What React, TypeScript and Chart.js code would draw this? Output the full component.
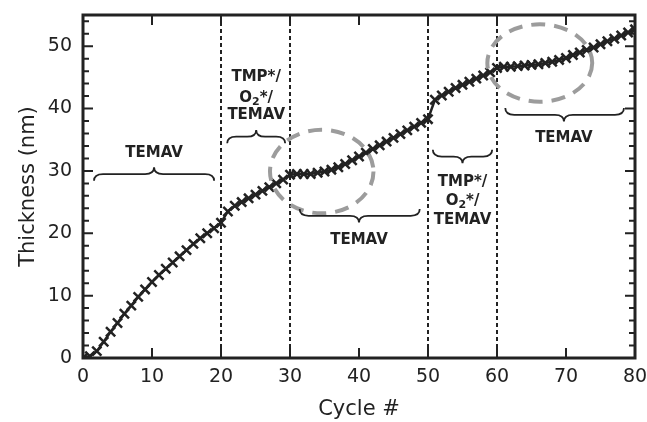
import { useEffect, useRef } from "react";
import { Chart, registerables } from "chart.js";

Chart.register(...registerables);

const cycles: number[] = Array.from({ length: 81 }, (_, i) => i);
const thickness: number[] = [
  0.0, 0.3, 1.1, 2.6, 4.2, 5.6, 7.1, 8.4, 9.8, 11.0,
  12.2, 13.3, 14.3, 15.3, 16.3, 17.3, 18.3, 19.2, 20.0, 20.8,
  21.7, 23.5, 24.4, 25.0, 25.6, 26.2, 26.8, 27.4, 28.0, 28.6,
  29.4, 29.5, 29.5, 29.5, 29.7, 29.9, 30.2, 30.6, 31.1, 31.7,
  32.3, 32.9, 33.5, 34.1, 34.7, 35.3, 35.9, 36.5, 37.1, 37.7,
  38.3, 41.4, 42.1, 42.7, 43.3, 43.8, 44.3, 44.8, 45.3, 45.8,
  46.5, 46.7, 46.7, 46.8, 46.9, 47.0, 47.1, 47.3, 47.5, 47.8,
  48.1, 48.6, 49.0, 49.4, 49.8, 50.3, 50.8, 51.2, 51.7, 52.2,
  52.7,
];
const xTickValues: number[] = [0, 10, 20, 30, 40, 50, 60, 70, 80];
const yTickValues: number[] = [0, 10, 20, 30, 40, 50];
const phaseBoundaries: number[] = [20, 30, 50, 60];

const xTitle = "Cycle #";
const yTitle = "Thickness (nm)";

// label lines: segments of [text, isSubscript]
const TEMAV_LINES = [[["TEMAV", false]]];
const MIXED_LINES = [
  [["TMP*/", false]],
  [["O", false], ["2", true], ["*/", false]],
  [["TEMAV", false]],
];

// brace annotations (data coordinates)
const braces = [
  { x1: 1.6, x2: 19.0, xm: 10.3, y: 29.5, dir: "up", lines: TEMAV_LINES, ty: [32.8] },
  { x1: 20.9, x2: 29.3, xm: 25.1, y: 35.5, dir: "up", lines: MIXED_LINES, ty: [45.1, 41.7, 38.9] },
  { x1: 31.4, x2: 48.8, xm: 40.0, y: 22.8, dir: "down", lines: TEMAV_LINES, ty: [18.9] },
  { x1: 50.7, x2: 59.3, xm: 55.0, y: 32.3, dir: "down", lines: MIXED_LINES, ty: [28.2, 25.2, 22.1] },
  { x1: 61.2, x2: 78.4, xm: 69.7, y: 39.0, dir: "down", lines: TEMAV_LINES, ty: [35.2] },
];

// dashed highlight ellipses (data coordinates)
const ellipses = [
  { cx: 34.6, cy: 29.9, rx: 7.5, ry: 6.7 },
  { cx: 66.2, cy: 47.3, rx: 7.6, ry: 6.2 },
];

const INK = "#222222";
const MAIN_FONT = "bold 15px 'DejaVu Sans'";
const SUB_FONT = "bold 11px 'DejaVu Sans'";

function drawMixed(ctx: CanvasRenderingContext2D, segs: any[], cx: number, cy: number) {
  let total = 0;
  const widths: number[] = [];
  for (const [t, sub] of segs) {
    ctx.font = sub ? SUB_FONT : MAIN_FONT;
    const w = ctx.measureText(t).width;
    widths.push(w);
    total += w;
  }
  let x = cx - total / 2;
  ctx.textAlign = "left";
  ctx.textBaseline = "middle";
  segs.forEach(([t, sub]: any, i: number) => {
    ctx.font = sub ? SUB_FONT : MAIN_FONT;
    ctx.fillText(t, x, sub ? cy + 4 : cy);
    x += widths[i];
  });
}

const decorPlugin = {
  id: "decor",
  beforeDatasetsDraw(chart: any) {
    const { ctx, chartArea: a, scales } = chart;
    const xs = scales.x;
    ctx.save();
    ctx.strokeStyle = INK;
    ctx.lineWidth = 2;
    ctx.setLineDash([4, 3]);
    for (const b of phaseBoundaries) {
      const px = Math.round(xs.getPixelForValue(b));
      ctx.beginPath();
      ctx.moveTo(px, a.top);
      ctx.lineTo(px, a.bottom);
      ctx.stroke();
    }
    ctx.restore();
  },
  afterDatasetsDraw(chart: any) {
    const { ctx, chartArea: a, scales } = chart;
    const xs = scales.x;
    const ys = scales.y;
    ctx.save();

    // ellipses
    ctx.strokeStyle = "#9c9c9c";
    ctx.lineWidth = 4;
    ctx.setLineDash([14, 9]);
    for (const e of ellipses) {
      const cx = xs.getPixelForValue(e.cx);
      const cy = ys.getPixelForValue(e.cy);
      const rx = Math.abs(xs.getPixelForValue(e.cx + e.rx) - cx);
      const ry = Math.abs(ys.getPixelForValue(e.cy + e.ry) - cy);
      ctx.beginPath();
      ctx.ellipse(cx, cy, rx, ry, 0, 0, Math.PI * 2);
      ctx.stroke();
    }
    ctx.setLineDash([]);

    // braces
    ctx.strokeStyle = INK;
    ctx.lineWidth = 1.8;
    const h = 6.7;
    const r = 9;
    for (const b of braces) {
      const xa = xs.getPixelForValue(b.x1);
      const xb = xs.getPixelForValue(b.x2);
      const xm = xs.getPixelForValue(b.xm);
      const ym = ys.getPixelForValue(b.y);
      const d = b.dir === "up" ? -1 : 1;
      ctx.beginPath();
      ctx.moveTo(xa, ym - d * h);
      ctx.quadraticCurveTo(xa, ym, xa + r, ym);
      ctx.lineTo(xm - r, ym);
      ctx.quadraticCurveTo(xm, ym, xm, ym + d * h);
      ctx.quadraticCurveTo(xm, ym, xm + r, ym);
      ctx.lineTo(xb - r, ym);
      ctx.quadraticCurveTo(xb, ym, xb, ym - d * h);
      ctx.stroke();

      ctx.fillStyle = INK;
      b.lines.forEach((segs: any[], i: number) => {
        drawMixed(ctx, segs, xm, ys.getPixelForValue(b.ty[i]));
      });
    }

    // inward ticks
    ctx.strokeStyle = INK;
    ctx.lineWidth = 2;
    for (const v of xTickValues) {
      const px = xs.getPixelForValue(v);
      ctx.beginPath();
      ctx.moveTo(px, a.bottom);
      ctx.lineTo(px, a.bottom - 10);
      ctx.moveTo(px, a.top);
      ctx.lineTo(px, a.top + 10);
      ctx.stroke();
    }
    for (let v = 0; v <= ys.max; v += 2) {
      const py = ys.getPixelForValue(v);
      const len = v % 10 === 0 ? 10 : 6;
      ctx.beginPath();
      ctx.moveTo(a.left, py);
      ctx.lineTo(a.left + len, py);
      ctx.moveTo(a.right, py);
      ctx.lineTo(a.right - len, py);
      ctx.stroke();
    }

    // frame
    ctx.lineWidth = 3;
    ctx.strokeRect(a.left, a.top, a.right - a.left, a.bottom - a.top);
    ctx.restore();
  },
};

export default function App() {
  const ref = useRef<HTMLCanvasElement | null>(null);
  useEffect(() => {
    document.body.style.margin = "0";
    const canvas = ref.current;
    if (!canvas) return;
    const chart = new Chart(canvas, {
      type: "line",
      data: {
        datasets: [
          {
            data: cycles.map((c, i) => ({ x: c, y: thickness[i] })),
            borderColor: INK,
            borderWidth: 2.5,
            pointStyle: "crossRot",
            pointRadius: 6.5,
            pointBorderWidth: 2.5,
            pointBorderColor: INK,
            pointBackgroundColor: INK,
            tension: 0,
            fill: false,
          },
        ],
      },
      options: {
        responsive: false,
        animation: false,
        events: [],
        layout: { padding: { top: 15, right: 12, left: 0, bottom: 0 } },
        plugins: { legend: { display: false }, tooltip: { enabled: false } },
        scales: {
          x: {
            type: "linear",
            min: 0,
            max: 80,
            afterFit: (s: any) => {
              s.height = 64;
              s.paddingLeft = 0;
              s.paddingRight = 0;
            },
            afterBuildTicks: (s: any) => {
              s.ticks = xTickValues.map((v) => ({ value: v }));
            },
            grid: { display: false, drawTicks: false },
            border: { display: false },
            ticks: {
              color: INK,
              padding: 8,
              autoSkip: false,
              maxRotation: 0,
              font: { family: "'DejaVu Sans'", size: 19 },
            },
            title: {
              display: true,
              text: xTitle,
              color: INK,
              font: { family: "'DejaVu Sans'", size: 21, lineHeight: 1 },
              padding: { top: 0, bottom: 1.5 },
            },
          },
          y: {
            type: "linear",
            min: 0,
            max: 55,
            afterFit: (s: any) => {
              s.width = 83;
              s.paddingTop = 0;
              s.paddingBottom = 0;
            },
            afterBuildTicks: (s: any) => {
              s.ticks = yTickValues.map((v) => ({ value: v }));
            },
            grid: { display: false, drawTicks: false },
            border: { display: false },
            ticks: {
              color: INK,
              padding: 11,
              font: { family: "'DejaVu Sans'", size: 19 },
            },
            title: {
              display: true,
              text: yTitle,
              color: INK,
              font: { family: "'DejaVu Sans'", size: 21, lineHeight: 1 },
              padding: { top: 18.5, bottom: 0 },
            },
          },
        },
      },
      plugins: [decorPlugin],
    });
    return () => chart.destroy();
  }, []);
  return (
    <div style={{ width: 647, height: 422 }}>
      <canvas ref={ref} width={647} height={422} style={{ display: "block" }} />
    </div>
  );
}
